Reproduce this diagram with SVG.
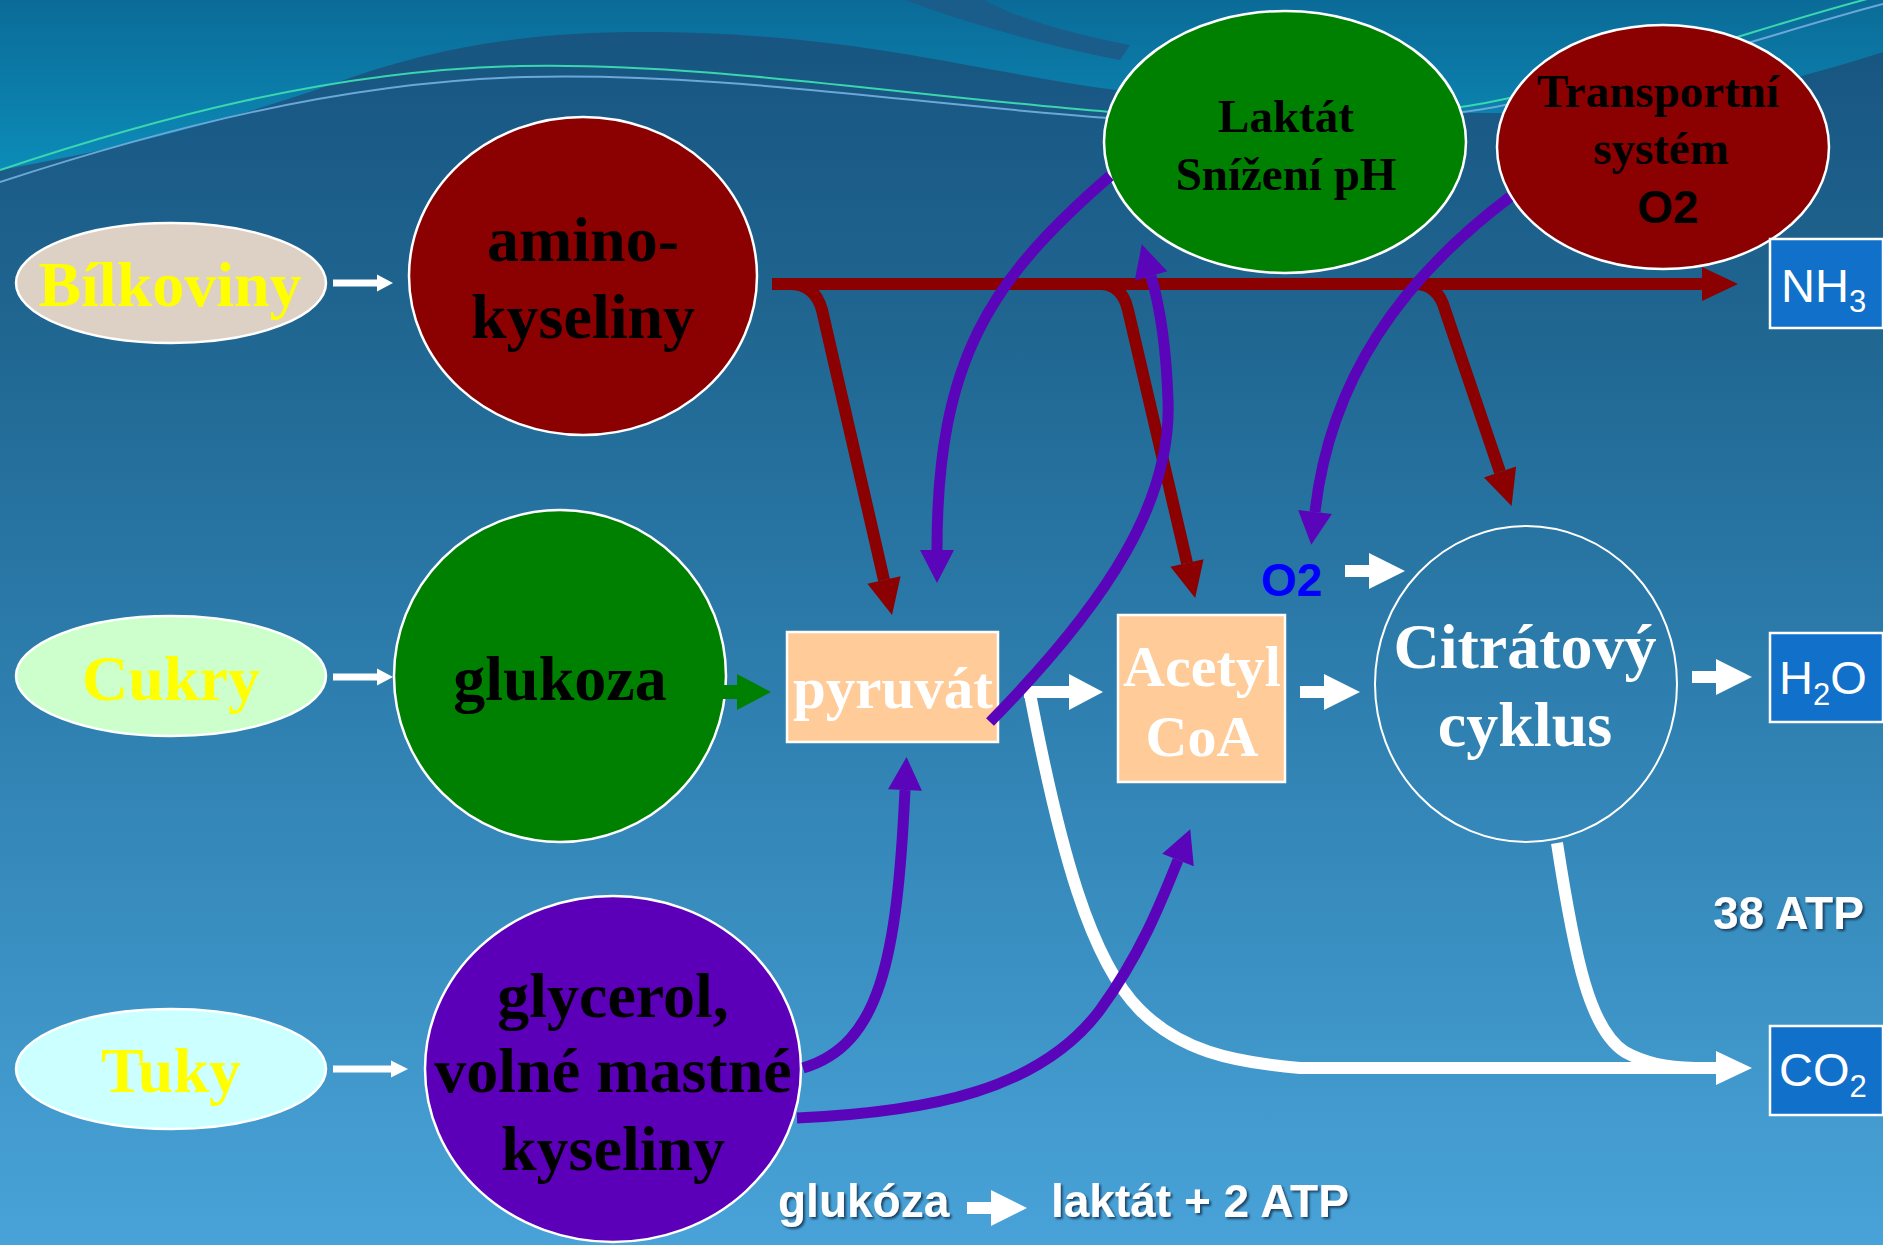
<svg xmlns="http://www.w3.org/2000/svg" width="1883" height="1245" viewBox="0 0 1883 1245">
<defs>
<linearGradient id="bg" x1="0" y1="0" x2="0" y2="1">
<stop offset="0" stop-color="#17537f"/>
<stop offset="0.25" stop-color="#1f6590"/>
<stop offset="0.55" stop-color="#2d7eae"/>
<stop offset="1" stop-color="#49a3d8"/>
</linearGradient>
<linearGradient id="teal" x1="0" y1="0" x2="0" y2="1">
<stop offset="0" stop-color="#0b6b98"/>
<stop offset="1" stop-color="#0c8cb8"/>
</linearGradient>
<filter id="sh" x="-10%" y="-30%" width="120%" height="160%">
<feDropShadow dx="2" dy="2" stdDeviation="1.2" flood-color="#0a2a4a" flood-opacity="0.8"/>
</filter>
<marker id="hRed" markerUnits="userSpaceOnUse" markerWidth="40" markerHeight="36" refX="0" refY="17" orient="auto" overflow="visible">
<path d="M0,0 L36,17 L0,34 Z" fill="#8b0000"/>
</marker>
<marker id="hPur" markerUnits="userSpaceOnUse" markerWidth="36" markerHeight="36" refX="0" refY="17" orient="auto" overflow="visible">
<path d="M0,0 L33,17 L0,34 Z" fill="#5b05bb"/>
</marker>
<marker id="hWht" markerUnits="userSpaceOnUse" markerWidth="40" markerHeight="36" refX="0" refY="17" orient="auto" overflow="visible">
<path d="M0,0 L36,17 L0,34 Z" fill="#ffffff"/>
</marker>
<path id="blk" d="M0,-6 H24 V-18 L60,0 L24,18 V6 H0 Z"/>
<path id="thin" d="M0,-3.5 H44 V-8.5 L60,0 L44,8.5 V3.5 H0 Z"/>
</defs>
<style>
.ns{stroke:#ffffff;stroke-width:2.5}
.tb{font-family:"Liberation Serif","Times New Roman",serif;font-weight:bold;text-anchor:middle}
.ab{font-family:"Liberation Sans",Arial,sans-serif;font-weight:bold}
.ar{font-family:"Liberation Sans",Arial,sans-serif;fill:#ffffff}
.red{fill:none;stroke:#8b0000;stroke-width:12}
.pur{fill:none;stroke:#5b05bb;stroke-width:11}
.wht{fill:none;stroke:#ffffff;stroke-width:12}
.box{fill:#1170c9;stroke:#ffffff;stroke-width:2.5}
</style>

<g id="background">
<rect x="0" y="0" width="1883" height="1245" fill="url(#bg)"/>
<path d="M0,0 H1883 V52 C1780,85 1680,108 1560,112 C1420,116 1250,108 1116,90 C980,72 880,40 700,33 C560,28 450,40 330,85 C200,130 100,152 0,170 Z" fill="url(#teal)"/>
<path d="M905,0 C960,20 1030,42 1120,60 L1130,45 C1060,32 1010,15 985,0 Z" fill="#1a5d8a"/>
<path d="M0,170 C150,120 330,70 520,66 C700,62 900,95 1110,112 C1250,124 1420,118 1500,100 C1650,70 1780,20 1883,-5" fill="none" stroke="#3ad6b0" stroke-width="2"/>
<path d="M0,182 C160,130 340,82 525,77 C720,72 910,104 1110,118 C1260,128 1430,122 1510,104 C1660,74 1790,28 1883,4" fill="none" stroke="#6aa8d8" stroke-width="2"/>
</g>

<g id="bilkoviny">
<ellipse cx="171" cy="283" rx="155" ry="60" fill="#ddd0c4" class="ns"/>
<text x="170" y="306" class="tb" font-size="64" fill="#ffff00">Bílkoviny</text>
</g>
<g id="cukry">
<ellipse cx="171" cy="676" rx="155" ry="60" fill="#ccffcc" class="ns"/>
<text x="171" y="700" class="tb" font-size="64" fill="#ffff00">Cukry</text>
</g>
<g id="tuky">
<ellipse cx="171" cy="1069" rx="155" ry="60" fill="#ccffff" class="ns"/>
<text x="171" y="1092" class="tb" font-size="64" fill="#ffff00">Tuky</text>
</g>
<g id="aminokyseliny">
<ellipse cx="583" cy="276" rx="174" ry="159" fill="#8b0000" class="ns"/>
<text x="583" y="261" class="tb" font-size="64" fill="#000000">amino-</text>
<text x="583" y="338" class="tb" font-size="64" fill="#000000">kyseliny</text>
</g>
<g id="glukoza">
<ellipse cx="560" cy="676" rx="166" ry="166" fill="#008000" class="ns"/>
<text x="560" y="700" class="tb" font-size="64" fill="#000000">glukoza</text>
</g>
<g id="glycerol">
<ellipse cx="613" cy="1069" rx="188" ry="173" fill="#5b00b8" class="ns"/>
<text x="613" y="1017" class="tb" font-size="64" fill="#000000">glycerol,</text>
<text x="613" y="1092" class="tb" font-size="64" fill="#000000">volné mastné</text>
<text x="613" y="1170" class="tb" font-size="64" fill="#000000">kyseliny</text>
</g>
<g id="laktat">
<ellipse cx="1285" cy="142" rx="181" ry="131" fill="#008000" class="ns"/>
<text x="1286" y="132" class="tb" font-size="47" fill="#000000">Laktát</text>
<text x="1286" y="190" class="tb" font-size="47" fill="#000000">Snížení pH</text>
</g>
<g id="transportni">
<ellipse cx="1663" cy="147" rx="166" ry="122" fill="#8b0000" class="ns"/>
<text x="1658" y="107" class="tb" font-size="47" fill="#000000">Transportní</text>
<text x="1661" y="164" class="tb" font-size="47" fill="#000000">systém</text>
<text x="1668" y="223" class="ab" font-size="46" fill="#000000" text-anchor="middle">O2</text>
</g>
<g id="pyruvat">
<rect x="787" y="632" width="211" height="110" fill="#ffcc99" class="ns"/>
<text x="893" y="708" class="tb" font-size="59" fill="#ffffff">pyruvát</text>
</g>
<g id="acetylcoa">
<rect x="1118" y="615" width="167" height="167" fill="#ffcc99" class="ns"/>
<text x="1202" y="686" class="tb" font-size="58" fill="#ffffff">Acetyl</text>
<text x="1202" y="756" class="tb" font-size="58" fill="#ffffff">CoA</text>
</g>
<g id="citratovy">
<ellipse cx="1526" cy="684" rx="151" ry="158" fill="none" stroke="#ffffff" stroke-width="2"/>
<text x="1525" y="668" class="tb" font-size="64" fill="#ffffff">Citrátový</text>
<text x="1525" y="746" class="tb" font-size="64" fill="#ffffff">cyklus</text>
</g>
<g id="nh3">
<rect x="1770" y="239" width="113" height="89" class="box"/>
<text x="1781" y="302" class="ar" font-size="47">NH<tspan font-size="31" dy="10">3</tspan></text>
</g>
<g id="h2o">
<rect x="1770" y="633" width="113" height="89" class="box"/>
<text x="1779" y="694" class="ar" font-size="47">H<tspan font-size="31" dy="11">2</tspan><tspan dy="-11">O</tspan></text>
</g>
<g id="co2">
<rect x="1770" y="1026" width="113" height="89" class="box"/>
<text x="1779" y="1086" class="ar" font-size="47">CO<tspan font-size="31" dy="11">2</tspan></text>
</g>

<g id="connectors">
<use href="#thin" x="333" y="283" fill="#ffffff"/>
<use href="#thin" x="333" y="677" fill="#ffffff"/>
<path d="M333,1065.5 H391 V1060.5 L408,1069 L391,1077.5 V1072.5 H333 Z" fill="#ffffff"/>
<path d="M712,685 H737 V674 L771,692 L737,710 V699 H712 Z" fill="#008000"/>
<path class="red" d="M772,284 H1702" marker-end="url(#hRed)"/>
<path class="red" d="M790,284 Q815,284 822,310 L884,580" marker-end="url(#hRed)"/>
<path class="red" d="M1100,284 Q1122,284 1128,310 L1187,563" marker-end="url(#hRed)"/>
<path class="red" d="M1415,284 Q1438,284 1445,310 L1500,472" marker-end="url(#hRed)"/>
<path class="wht" d="M1030,694 C1060,850 1090,960 1140,1010 C1180,1050 1230,1062 1300,1068 L1716,1068" marker-end="url(#hWht)"/>
<path class="wht" d="M1557,843 C1575,960 1590,1030 1625,1052 C1645,1063 1665,1067 1695,1068"/>
<path d="M1024,686 H1069 V674 L1103,692 L1069,710 V698 H1024 Z" fill="#ffffff"/>
<use href="#blk" x="1300" y="692" fill="#ffffff"/>
<use href="#blk" x="1345" y="571" fill="#ffffff"/>
<use href="#blk" x="1692" y="677" fill="#ffffff"/>
<use href="#blk" x="967" y="1208" fill="#ffffff"/>
<path class="pur" d="M1110,176 C990,280 937,360 937,550" marker-end="url(#hPur)"/>
<path class="pur" d="M990,722 C1110,600 1172,500 1168,400 C1166,340 1158,300 1151,276" marker-end="url(#hPur)"/>
<path class="pur" d="M1510,197 C1400,280 1330,380 1315,512" marker-end="url(#hPur)"/>
<path class="pur" d="M803,1068 C880,1045 897,960 905,790" marker-end="url(#hPur)"/>
<path class="pur" d="M797,1118 C930,1112 1040,1090 1100,1010 C1140,955 1160,905 1178,860" marker-end="url(#hPur)"/>
</g>

<g id="labels">
<text x="1261" y="596" class="ab" font-size="46" fill="#0000ff">O2</text>
<text x="1713" y="929" class="ab" font-size="46" fill="#ffffff" filter="url(#sh)">38 ATP</text>
<text x="778" y="1217" class="ab" font-size="46" fill="#ffffff" filter="url(#sh)">glukóza</text>
<text x="1051" y="1217" class="ab" font-size="46" fill="#ffffff" filter="url(#sh)">laktát + 2 ATP</text>
</g>
</svg>
